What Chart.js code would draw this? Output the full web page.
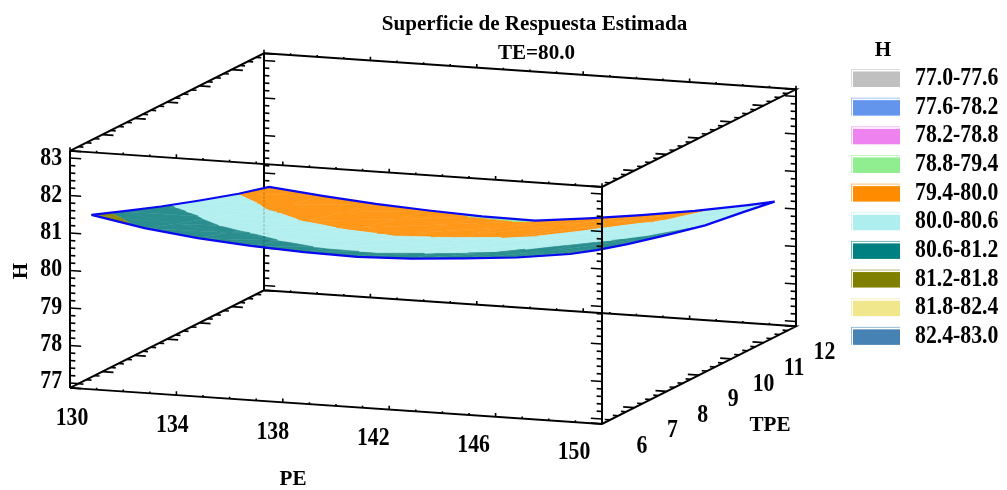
<!DOCTYPE html>
<html><head><meta charset="utf-8">
<style>html,body{margin:0;padding:0;background:#fff}canvas{display:block}</style>
<script src="https://cdn.jsdelivr.net/npm/chart.js@4"></script>
</head><body><canvas id="c" width="1007" height="490"></canvas>
<script>
const titleLines = ['Superficie de Respuesta Estimada','TE=80.0'];
const bandLabels = ['77.0-77.6','77.6-78.2','78.2-78.8','78.8-79.4','79.4-80.0','80.0-80.6','80.6-81.2','81.2-81.8','81.8-82.4','82.4-83.0'];
const bandEdges = [77.0,77.6,78.2,78.8,79.4,80.0,80.6,81.2,81.8,82.4,83.0];
const legendColors = ['#C0C0C0','#6495ED','#EE82EE','#90EE90','#FF8C00','#AFEEEE','#008080','#808000','#F0E68C','#4682B4'];
const surfaceColors = ['#C0C0C0','#6495ED','#EE82EE','#9CEE9C','#FF9718','#B4EFEF','#2A8E8E','#8A8A10','#F0E68C','#4682B4'];
const peTicks = [130,134,138,142,146,150];
const tpeTicks = [6,7,8,9,10,11,12];
const hTicks = [77,78,79,80,81,82,83];
const surfacePE = [130.5,132.5,134.5,136.5,138.5,140.5,142.5,144.5,146.5,148.5,149.5];
const surfaceTPE = [6.25,7.2,8.4,9.6,10.8,11.75];
const H_625  = [81.40,81.14,80.97,80.86,80.79,80.76,80.81,80.91,81.03,81.22,81.37];
const H_72   = [81.08,80.84,80.71,80.59,80.51,80.50,80.56,80.64,80.78,80.97,81.12];
const H_84   = [80.69,80.50,80.33,80.24,80.18,80.21,80.27,80.36,80.52,80.69,80.84];
const H_96   = [80.33,80.11,79.98,79.89,79.85,79.89,79.95,80.09,80.27,80.46,80.58];
const H_108  = [79.99,79.80,79.69,79.60,79.56,79.58,79.71,79.87,80.03,80.27,80.42];
const H_1175 = [79.76,79.62,79.50,79.42,79.36,79.34,79.50,79.68,79.89,80.14,80.28];
const surfaceH = [H_625,H_72,H_84,H_96,H_108,H_1175];

const PE0=130,PE1=150,T0=6,T1=12,H0=76.87,H1=83.19;
function project(pe,tpe,h){
  const p=(pe-PE0)/(PE1-PE0), q=(tpe-T0)/(T1-T0);
  return {x:70+532*p+194*q, y:383+36*p-97.5*q-37.5*(h-77)};
}
function segDataset(points,color,width,dash){
  return {data:points,showLine:true,fill:false,borderColor:color,borderWidth:width,borderDash:dash||[],
          pointRadius:0,tension:0,spanGaps:false,borderCapStyle:'butt'};
}
const GAP={x:NaN,y:NaN};
function polyline(list){const out=[];list.forEach(pts=>{pts.forEach(a=>out.push(project(a[0],a[1],a[2])));out.push(GAP);});return out;}

// frame
const frameBack=polyline([
  [[PE0,T0,H1],[PE0,T1,H1],[PE1,T1,H1],[PE1,T0,H1],[PE0,T0,H1]],
  [[PE0,T0,H0],[PE0,T1,H0],[PE1,T1,H0],[PE1,T0,H0],[PE0,T0,H0]],
  [[PE0,T0,H0],[PE0,T0,H1]],[[PE0,T1,H0],[PE0,T1,H1]],[[PE1,T1,H0],[PE1,T1,H1]]
]);
const frameFront=polyline([[[PE1,T0,H0],[PE1,T0,H1]]]);
const backLine=polyline([[[PE0,T1,H0],[PE0,T1,H1]]]);

// ticks
const MAJ=0.42, MIN=0.2;
function hTickLines(pe,tpe,dir){const r=[];for(let i=0;i<=30;i++){const h=77+i*0.2;const len=i%5===0?MAJ:MIN;r.push([[pe,tpe,h],[pe+dir*len,tpe,h]]);}return r;}
function tTickLines(pe,h,dir){const r=[];for(let i=0;i<=24;i++){const t=T0+i*0.25;const len=i%4===0?MAJ:MIN;r.push([[pe,t,h],[pe+dir*len,t,h]]);}return r;}
function pTickLines(tpe,h){const r=[];for(let i=0;i<=20;i++){const pe=PE0+i;const len=i%4===0?0.1:0.05;r.push([[pe,tpe,h],[pe,tpe,h+len]]);}return r;}
const ticksBack=polyline([].concat(
  hTickLines(PE0,T0,1),hTickLines(PE0,T1,1),hTickLines(PE1,T1,-1),
  tTickLines(PE0,H1,1),tTickLines(PE0,H0,1),tTickLines(PE1,H1,-1),tTickLines(PE1,H0,-1),
  pTickLines(T0,H0),pTickLines(T0,H1),pTickLines(T1,H0),pTickLines(T1,H1)));
const ticksFront=polyline(hTickLines(PE1,T0,-1));

// contour bands: clip each mesh triangle to each H band
function clip(poly,level,keepAbove){
  const out=[];
  for(let i=0;i<poly.length;i++){
    const a=poly[i],b=poly[(i+1)%poly.length];
    const ia=keepAbove?a[2]>=level:a[2]<=level, ib=keepAbove?b[2]>=level:b[2]<=level;
    if(ia)out.push(a);
    if(ia!==ib){const t=(level-a[2])/(b[2]-a[2]);out.push([a[0]+t*(b[0]-a[0]),a[1]+t*(b[1]-a[1]),level]);}
  }
  return out;
}
const surfaceSets=[];
for(let j=0;j<surfaceTPE.length-1;j++)for(let i=0;i<surfacePE.length-1;i++){
  const v=(ii,jj)=>[surfacePE[ii],surfaceTPE[jj],surfaceH[jj][ii]];
  const tris=[[v(i,j),v(i+1,j),v(i+1,j+1)],[v(i,j),v(i+1,j+1),v(i,j+1)]];
  tris.forEach(tri=>{
    bandLabels.forEach((_,k)=>{
      let poly=clip(tri,bandEdges[k],true);
      if(poly.length>=3)poly=clip(poly,bandEdges[k+1],false);
      if(poly.length>=3){
        surfaceSets.push({data:poly.map(a=>project(a[0],a[1],a[2])),showLine:true,fill:'shape',
          backgroundColor:surfaceColors[k],borderColor:surfaceColors[k],borderWidth:0.7,pointRadius:0,tension:0});
      }
    });
  });
}
// surface outline
const rim=[];
surfacePE.forEach((pe,i)=>rim.push([pe,surfaceTPE[0],surfaceH[0][i]]));
surfaceTPE.forEach((t,j)=>rim.push([surfacePE[surfacePE.length-1],t,surfaceH[j][surfacePE.length-1]]));
for(let i=surfacePE.length-1;i>=0;i--)rim.push([surfacePE[i],surfaceTPE[surfaceTPE.length-1],surfaceH[surfaceTPE.length-1][i]]);
for(let j=surfaceTPE.length-1;j>=0;j--)rim.push([surfacePE[0],surfaceTPE[j],surfaceH[j][0]]);

const paintOrder=[
  segDataset(frameBack,'#000',2),
  segDataset(ticksBack,'#000',1.6),
  ...surfaceSets,
  segDataset(polyline([rim]),'#0A0AF0',2.2),
  segDataset(backLine,'rgba(0,0,0,0.28)',1,[2,2]),
  segDataset(frameFront,'#000',2),
  segDataset(ticksFront,'#000',1.6)
];

const FONT='"Liberation Serif","Times New Roman",serif';
function label(ctx,text,x,y,size,opt){
  opt=opt||{};
  ctx.save();
  ctx.translate(x,y);
  if(opt.rot)ctx.rotate(opt.rot);
  ctx.scale(opt.sx||0.87,1);
  ctx.font='bold '+size+'px '+FONT;
  ctx.fillStyle='#000';
  ctx.textAlign=opt.align||'center';
  ctx.textBaseline='middle';
  ctx.fillText(text,0,0);
  ctx.restore();
}
function tint(hex){const n=parseInt(hex.slice(1),16);const m=c=>Math.round(c+(255-c)*0.45);
  return 'rgb('+m(n>>16&255)+','+m(n>>8&255)+','+m(n&255)+')';}
const textPlugin={id:'text3d',afterDraw(chart){
  const ctx=chart.ctx;
  label(ctx,titleLines[0],534.5,24,22,{sx:0.96});
  label(ctx,titleLines[1],536.5,53,22,{sx:0.96});
  peTicks.forEach(v=>label(ctx,String(v),72+25.1*(v-130),418.5+1.7*(v-130),25));
  tpeTicks.forEach(v=>label(ctx,String(v),642+30.4*(v-6),446.5-15.6*(v-6),25));
  hTicks.forEach(v=>label(ctx,String(v),62,381.5-37.17*(v-77),25,{align:'right'}));
  label(ctx,'PE',293,479,22,{sx:0.96});
  label(ctx,'TPE',770,425,22,{sx:0.96});
  label(ctx,'H',21,271,22,{sx:0.96,rot:-Math.PI/2});
  label(ctx,'H',883,50,22,{sx:0.96});
  bandLabels.forEach((t,i)=>{
    const y=69+28.65*i;
    ctx.fillStyle=tint(legendColors[i]);
    ctx.fillRect(851,y,49,1);ctx.fillRect(851,y,1,18);
    ctx.fillStyle=legendColors[i];
    ctx.fillRect(853,y+2.5,47,15.5);
    label(ctx,t,915,y+9.5,25,{align:'left'});
  });
}};
new Chart(document.getElementById('c'),{
  type:'scatter',
  data:{datasets:paintOrder.slice().reverse()},
  options:{responsive:false,animation:false,events:[],
    layout:{padding:0},
    plugins:{legend:{display:false},tooltip:{enabled:false},title:{display:false}},
    scales:{x:{type:'linear',display:false,min:0,max:1007},y:{type:'linear',display:false,min:0,max:490,reverse:true}}
  },
  plugins:[textPlugin]
});
</script></body></html>
